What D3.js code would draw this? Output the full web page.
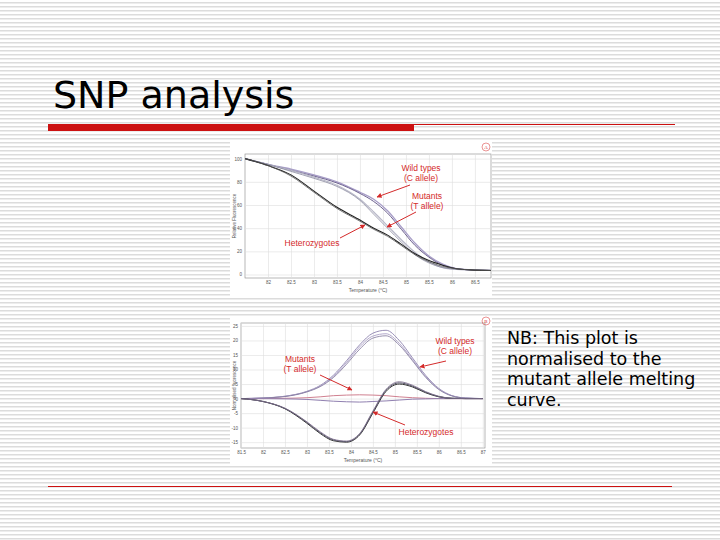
<!DOCTYPE html><html><head><meta charset="utf-8">
<script src="https://cdn.jsdelivr.net/npm/d3@7"></script>
<style>body{margin:0;}svg{display:block;}</style></head><body>
<script>
// ---- data ----
const topTicksX = [82,82.5,83,83.5,84,84.5,85,85.5,86,86.5];
const topTicksY = [0,20,40,60,80,100];
const topX = [81.5,82,82.5,83,83.5,84,84.3,84.6,84.9,85.2,85.5,85.8,86.1,86.4,86.85];
const wildA = [100,95,91,86,80,71,65,55,41,27,16,9,5,4,3.5];
const wildB = [100,95,90,85,79,70,63,53,39,25,15,8,5,4,3.5];
const mutA  = [100,95,90,84,77,65,54,42,30,19,11,6,4.5,4,3.5];
const mutB  = [100,95,89,83,76,64,52,40,28,17,10,6,4.5,4,3.5];
const hetA  = [100,94,86,72,58,47,40,34,26,18,12,8,5,4,3.5];
const hetB  = [100,94,85,71,57,46,39,33,25,17,11,7,5,4,3.5];

const botTicksX = [81.5,82,82.5,83,83.5,84,84.5,85,85.5,86,86.5,87];
const botTicksY = [-15,-10,-5,0,5,10,15,20,25];
const botX = [81.5,82,82.5,83,83.3,83.6,83.9,84.2,84.5,84.8,85.1,85.4,85.7,86,86.3,86.6,87];
const wd1 = [0,0.2,0.8,2.5,4.5,8,13,18.5,22.5,23.5,20,14,8,3.5,1,0.2,0];
const wd2 = [0,0.2,0.8,2.4,4.3,7.6,12.4,17.8,21.5,22.3,19,13.4,7.6,3.3,1,0.2,0];
const wd3 = [0,0.2,0.7,2.3,4.1,7.2,11.8,17,20.8,21.6,18.4,13,7.3,3.1,0.9,0.2,0];
const mu1 = [0,0,0.1,0.3,0.6,1,1.2,1.3,1.2,1,0.6,0.3,0.1,0,0,0,0];
const mu2 = [0,0,-0.1,-0.3,-0.6,-0.9,-1.1,-1.2,-1,-0.8,-0.5,-0.2,-0.1,0,0,0,0];
const he1 = [0,-1,-3.5,-8.5,-12,-14.5,-15,-12.5,-5,2.5,5,4,2,0.6,0.1,0,0];
const he2 = [0,-1,-3.4,-8.2,-11.7,-14.2,-14.8,-12.2,-4.6,2.9,5.4,4.3,2.2,0.7,0.1,0,0];
const he3 = [0,-1,-3.3,-8,-11.4,-14,-14.6,-12,-4.3,3.2,5.8,4.6,2.4,0.8,0.1,0,0];
const noteLines = ["NB: This plot is","normalised to the","mutant allele melting","curve."];

const W=720,H=540;
const svg=d3.select("body").append("svg").attr("width",W).attr("height",H);
const defs=svg.append("defs");
const pat=defs.append("pattern").attr("id","stripes").attr("width",8).attr("height",4).attr("patternUnits","userSpaceOnUse");
pat.append("rect").attr("width",8).attr("height",4).attr("fill","#ffffff");
pat.append("rect").attr("y",2).attr("width",8).attr("height",1.5).attr("fill","#dcdcdc");
svg.append("rect").attr("width",W).attr("height",H).attr("fill","url(#stripes)");
const red="#d42a2a";
defs.append("marker").attr("id","arr").attr("viewBox","0 0 10 10").attr("refX",9).attr("refY",5)
 .attr("markerWidth",5).attr("markerHeight",5).attr("orient","auto")
 .append("path").attr("d","M0,0L10,5L0,10z").attr("fill",red);

svg.append("text").attr("x",53).attr("y",108).attr("font-family","DejaVu Sans").attr("font-size",38).attr("fill","#000").text("SNP analysis");
svg.append("rect").attr("x",48).attr("y",124).attr("width",366).attr("height",7).attr("fill","#cc1111");
svg.append("line").attr("x1",414).attr("x2",675).attr("y1",124.5).attr("y2",124.5).attr("stroke","#cc1111");
svg.append("line").attr("x1",48).attr("x2",672).attr("y1",486.5).attr("y2",486.5).attr("stroke","#cc1111");

noteLines.forEach((t,i)=>svg.append("text").attr("x",507).attr("y",344+i*20.5)
 .attr("font-family","DejaVu Sans").attr("font-size",17.5).attr("fill","#000").text(t));

function panel(opt){
 const g=svg.append("g");
 g.append("rect").attr("x",opt.px).attr("y",opt.py).attr("width",opt.pw).attr("height",opt.ph).attr("fill","#fff");
 const x=d3.scaleLinear().domain(opt.xd).range([opt.l,opt.r]);
 const y=d3.scaleLinear().domain(opt.yd).range([opt.b,opt.t]);
 g.append("rect").attr("x",opt.l).attr("y",opt.t).attr("width",opt.r-opt.l).attr("height",opt.b-opt.t).attr("fill","#fff").attr("stroke","#888").attr("stroke-width",0.6);
 const gx=g.append("g").attr("transform",`translate(0,${opt.b})`).call(d3.axisBottom(x).tickValues(opt.tx).tickSize(-(opt.b-opt.t)).tickFormat(d=>d));
 const gy=g.append("g").attr("transform",`translate(${opt.l},0)`).call(d3.axisLeft(y).tickValues(opt.ty).tickSize(-(opt.r-opt.l)).tickFormat(d=>d));
 [gx,gy].forEach(a=>{a.select(".domain").remove();a.selectAll("line").attr("stroke","#ddd").attr("stroke-width",0.6);
   a.selectAll("text").attr("font-size",4.5).attr("fill","#555").attr("font-family","Liberation Sans");});
 g.append("text").attr("x",(opt.l+opt.r)/2).attr("y",opt.b+14).attr("text-anchor","middle").attr("font-size",5).attr("fill","#555").attr("font-family","Liberation Sans").text("Temperature (°C)");
 g.append("text").attr("transform",`translate(${opt.px+6},${(opt.t+opt.b)/2}) rotate(-90)`).attr("text-anchor","middle").attr("font-size",4.5).attr("fill","#555").attr("font-family","Liberation Sans").text(opt.ylab);
 g.append("circle").attr("cx",opt.px+opt.pw-6).attr("cy",opt.py+5).attr("r",4).attr("fill","none").attr("stroke",red).attr("stroke-width",0.5);
 g.append("text").attr("x",opt.px+opt.pw-6).attr("y",opt.py+7).attr("text-anchor","middle").attr("font-size",5).attr("fill",red).text(opt.tag);
 const line=d3.line().x((d,i)=>x(opt.xs[i])).y(d=>y(d)).curve(d3.curveMonotoneX);
 opt.series.forEach(s=>g.append("path").attr("d",line(s.v)).attr("fill","none").attr("stroke",s.c).attr("stroke-width",s.w||1));
 opt.notes.forEach(n=>{
   n.t.forEach((t,i)=>g.append("text").attr("x",n.x).attr("y",n.y+i*10).attr("text-anchor",n.a||"middle").attr("font-size",8.5).attr("fill",red).attr("font-family","Liberation Sans").text(t));
   g.append("line").attr("x1",n.ax1).attr("y1",n.ay1).attr("x2",n.ax2).attr("y2",n.ay2).attr("stroke",red).attr("stroke-width",1).attr("marker-end","url(#arr)");
 });
}
panel({px:230,py:142,pw:262,ph:154,l:245,r:491,t:154,b:278,xd:[81.5,86.85],yd:[-3,104],tx:topTicksX,ty:topTicksY,xs:topX,tag:"A",ylab:"Relative Fluorescence",
 series:[{v:wildA,c:"#a89ec8",w:1.3},{v:wildB,c:"#6d628f",w:1},{v:mutA,c:"#b8b8c8",w:1.2},{v:mutB,c:"#8a8aa0",w:0.8},{v:hetA,c:"#222",w:1.1},{v:hetB,c:"#555",w:0.8}],
 notes:[{t:["Wild types","(C allele)"],x:421,y:171,ax1:410,ay1:185,ax2:377,ay2:197},
        {t:["Mutants","(T allele)"],x:427,y:199,ax1:416,ay1:212,ax2:387,ay2:227},
        {t:["Heterozygotes"],x:312,y:246,ax1:340,ay1:238,ax2:365,ay2:225}]});
panel({px:230,py:316,pw:262,ph:150,l:241,r:485,t:323,b:448,xd:[81.5,87.05],yd:[-17,26],tx:botTicksX,ty:botTicksY,xs:botX,tag:"B",ylab:"Normalised fluorescence",
 series:[{v:wd1,c:"#9a90b8",w:1},{v:wd2,c:"#b3a9cc",w:1},{v:wd3,c:"#7d7399",w:0.8},{v:mu1,c:"#d08090",w:1},{v:mu2,c:"#9080b0",w:1},{v:he1,c:"#333",w:1},{v:he2,c:"#556",w:1},{v:he3,c:"#7a6a8a",w:0.8}],
 notes:[{t:["Wild types","(C allele)"],x:455,y:344,ax1:446,ay1:361,ax2:420,ay2:367},
        {t:["Mutants","(T allele)"],x:300,y:362,ax1:320,ay1:375,ax2:352,ay2:390},
        {t:["Heterozygotes"],x:426,y:435,ax1:405,ay1:425,ax2:373,ay2:412}]});
</script></body></html>
